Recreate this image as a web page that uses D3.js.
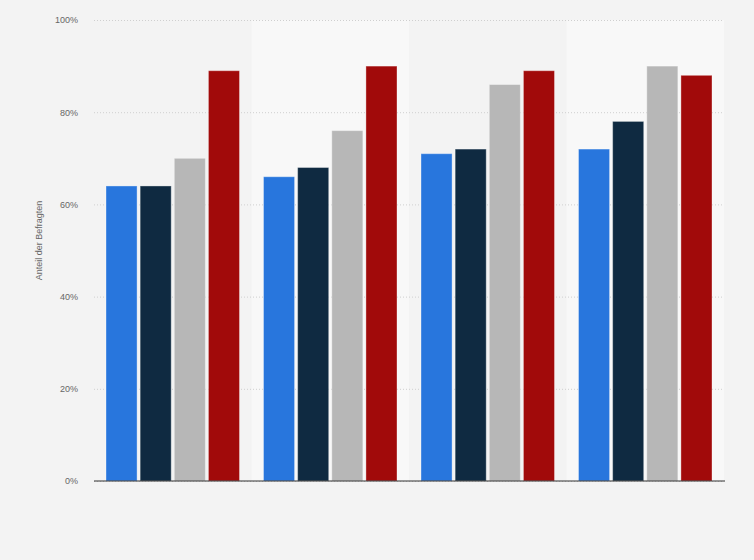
<!DOCTYPE html>
<html>
<head>
<meta charset="utf-8">
<script src="https://cdn.jsdelivr.net/npm/d3@7"></script>
<style>
  body { margin: 0; background: #f3f3f3; }
  svg { display: block; font-family: Arial, "Liberation Sans", sans-serif; }
</style>
</head>
<body>
<svg width="754" height="560"></svg>
<script>
// values (percent)
var groups = ["g1", "g2", "g3", "g4"];
var seriesNames = ["s1", "s2", "s3", "s4"];
var series1 = [64, 66, 71, 72];
var series2 = [64, 68, 72, 78];
var series3 = [70, 76, 86, 90];
var series4 = [89, 90, 89, 88];
var yTicks = [0, 20, 40, 60, 80, 100];
var strokes = ["#2876dd", "#0f2a41", "#b7b7b7", "#a10a0a"];

var margin = { top: 20, right: 30, bottom: 79, left: 94 };
var width = 754 - margin.left - margin.right;
var height = 560 - margin.top - margin.bottom;

var allSeries = [series1, series2, series3, series4];

var svg = d3.select("svg")
    .append("g")
    .attr("transform", "translate(" + margin.left + "," + margin.top + ")");

var x0 = d3.scaleBand().domain(groups).range([0, width]);
var x1 = d3.scaleBand().domain(seriesNames)
    .range([12, x0.bandwidth() - 12]).paddingInner(0.09);
var y = d3.scaleLinear().domain([0, 100]).range([height, 0]);

// alternating bands
svg.selectAll(".band")
    .data(groups.filter(function (d, i) { return i % 2 === 1; }))
    .enter().append("rect")
    .attr("x", function (d) { return x0(d); })
    .attr("y", 0)
    .attr("width", x0.bandwidth())
    .attr("height", height)
    .style("fill", "#f8f8f8");

// grid
svg.append("g")
    .call(d3.axisLeft(y).tickValues(yTicks).tickSize(-width).tickFormat(function (d) { return d + "%"; }))
    .call(function (g) {
        g.select(".domain").remove();
        g.selectAll(".tick line")
            .style("stroke", "#cfcfcf")
            .style("stroke-dasharray", "1,2");
        g.selectAll(".tick text")
            .attr("x", -16)
            .style("fill", "#666")
            .style("font-size", "9px");
    });

// bars
var group = svg.selectAll(".grp")
    .data(groups)
    .enter().append("g")
    .attr("transform", function (d) { return "translate(" + x0(d) + ",0)"; });

group.selectAll("rect")
    .data(function (d, gi) {
        return seriesNames.map(function (s, si) { return { key: s, value: allSeries[si][gi], i: si }; });
    })
    .enter().append("rect")
    .attr("x", function (d) { return x1(d.key); })
    .attr("y", function (d) { return y(d.value); })
    .attr("width", x1.bandwidth())
    .attr("height", function (d) { return height - y(d.value); })
    .style("fill", function (d) { return strokes[d.i]; })
    .style("stroke", "rgba(255,255,255,0.35)")
    .style("stroke-width", 1);

// x axis line
svg.append("line")
    .attr("x1", 0).attr("x2", width + 1)
    .attr("y1", height).attr("y2", height)
    .style("stroke", "#333")
    .style("stroke-width", 1.2);

// y axis title
svg.append("text")
    .attr("transform", "translate(" + (-52) + "," + (height / 2 - 10) + ") rotate(-90)")
    .attr("text-anchor", "middle")
    .style("fill", "#666")
    .style("font-size", "9px")
    .text("Anteil der Befragten");
</script>
</body>
</html>
